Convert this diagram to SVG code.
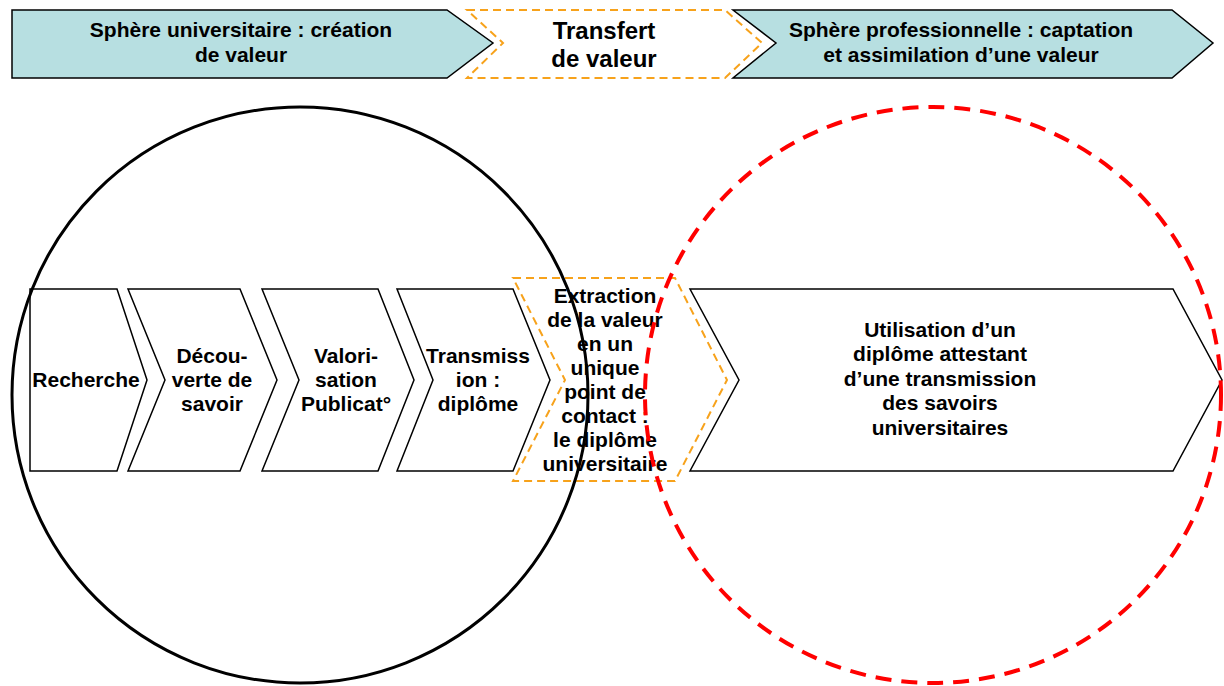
<svg xmlns="http://www.w3.org/2000/svg" width="1224" height="686" viewBox="0 0 1224 686">
<style>
text{font-family:"Liberation Sans",Arial,sans-serif;font-weight:bold;fill:#000;text-anchor:middle}
.t21{font-size:21px}
.t24{font-size:24px}
.teal{fill:#B7DFE1;stroke:#000;stroke-width:1.5}
.orange{fill:#fff;stroke:#F7A21B;stroke-width:2;stroke-dasharray:8 5}
.chev{fill:#fff;stroke:#000;stroke-width:1.5}
</style>
<rect width="1224" height="686" fill="#fff"/>
<g id="banner-univ">
<polygon class="teal" points="12,10 447,10 493,43 447,78 12,78"/>
<text class="t21" x="241" y="37">Sphère universitaire : création</text>
<text class="t21" x="241" y="62">de valeur</text>
</g>
<g id="banner-transfert">
<polygon class="orange" points="467,10 725,10 762,43 725,78 467,78 503,43"/>
<text class="t24" x="604" y="39">Transfert</text>
<text class="t24" x="604" y="67">de valeur</text>
</g>
<g id="banner-pro">
<polygon class="teal" points="733,10 1172,10 1213,43 1172,78 733,78 776,43"/>
<text class="t21" x="961" y="37">Sphère professionnelle : captation</text>
<text class="t21" x="961" y="62">et assimilation d’une valeur</text>
</g>
<g id="recherche">
<polygon class="chev" points="30,289 117,289 147,380 117,471 30,471"/>
<text class="t21" x="86" y="387">Recherche</text>
</g>
<g id="decouverte">
<polygon class="chev" points="128,289 240,289 277,380 240,471 128,471 165,380"/>
<text class="t21" x="212" y="363">Décou-</text>
<text class="t21" x="212" y="387">verte de</text>
<text class="t21" x="212" y="411">savoir</text>
</g>
<g id="valorisation">
<polygon class="chev" points="262,289 378,289 414,380 378,471 262,471 299,380"/>
<text class="t21" x="346" y="363">Valori-</text>
<text class="t21" x="346" y="387">sation</text>
<text class="t21" x="346" y="411">Publicat°</text>
</g>
<g id="transmission">
<polygon class="chev" points="397,289 513,289 550,380 513,471 397,471 433,380"/>
<text class="t21" x="478" y="363">Transmiss</text>
<text class="t21" x="478" y="387">ion :</text>
<text class="t21" x="478" y="411">diplôme</text>
</g>
<g id="extraction">
<polygon class="orange" points="513,278 675,278 727,380 675,481 513,481 565,380"/>
<text class="t21" x="605" y="303">Extraction</text>
<text class="t21" x="605" y="327">de la valeur</text>
<text class="t21" x="605" y="351">en un</text>
<text class="t21" x="605" y="375">unique</text>
<text class="t21" x="605" y="399">point de</text>
<text class="t21" x="605" y="423">contact :</text>
<text class="t21" x="605" y="447">le diplôme</text>
<text class="t21" x="605" y="471">universitaire</text>
</g>
<g id="utilisation">
<polygon class="chev" points="690,289 1173,289 1222,380 1173,471 690,471 739,380"/>
<text class="t21" x="940" y="337">Utilisation d’un</text>
<text class="t21" x="940" y="361">diplôme attestant</text>
<text class="t21" x="940" y="386">d’une transmission</text>
<text class="t21" x="940" y="410">des savoirs</text>
<text class="t21" x="940" y="435">universitaires</text>
</g>
<g id="spheres">
<circle cx="300" cy="395" r="288" fill="none" stroke="#000" stroke-width="3"/>
<circle cx="933" cy="395" r="288" fill="none" stroke="#FF0000" stroke-width="4" stroke-dasharray="16 10"/>
</g>
</svg>
